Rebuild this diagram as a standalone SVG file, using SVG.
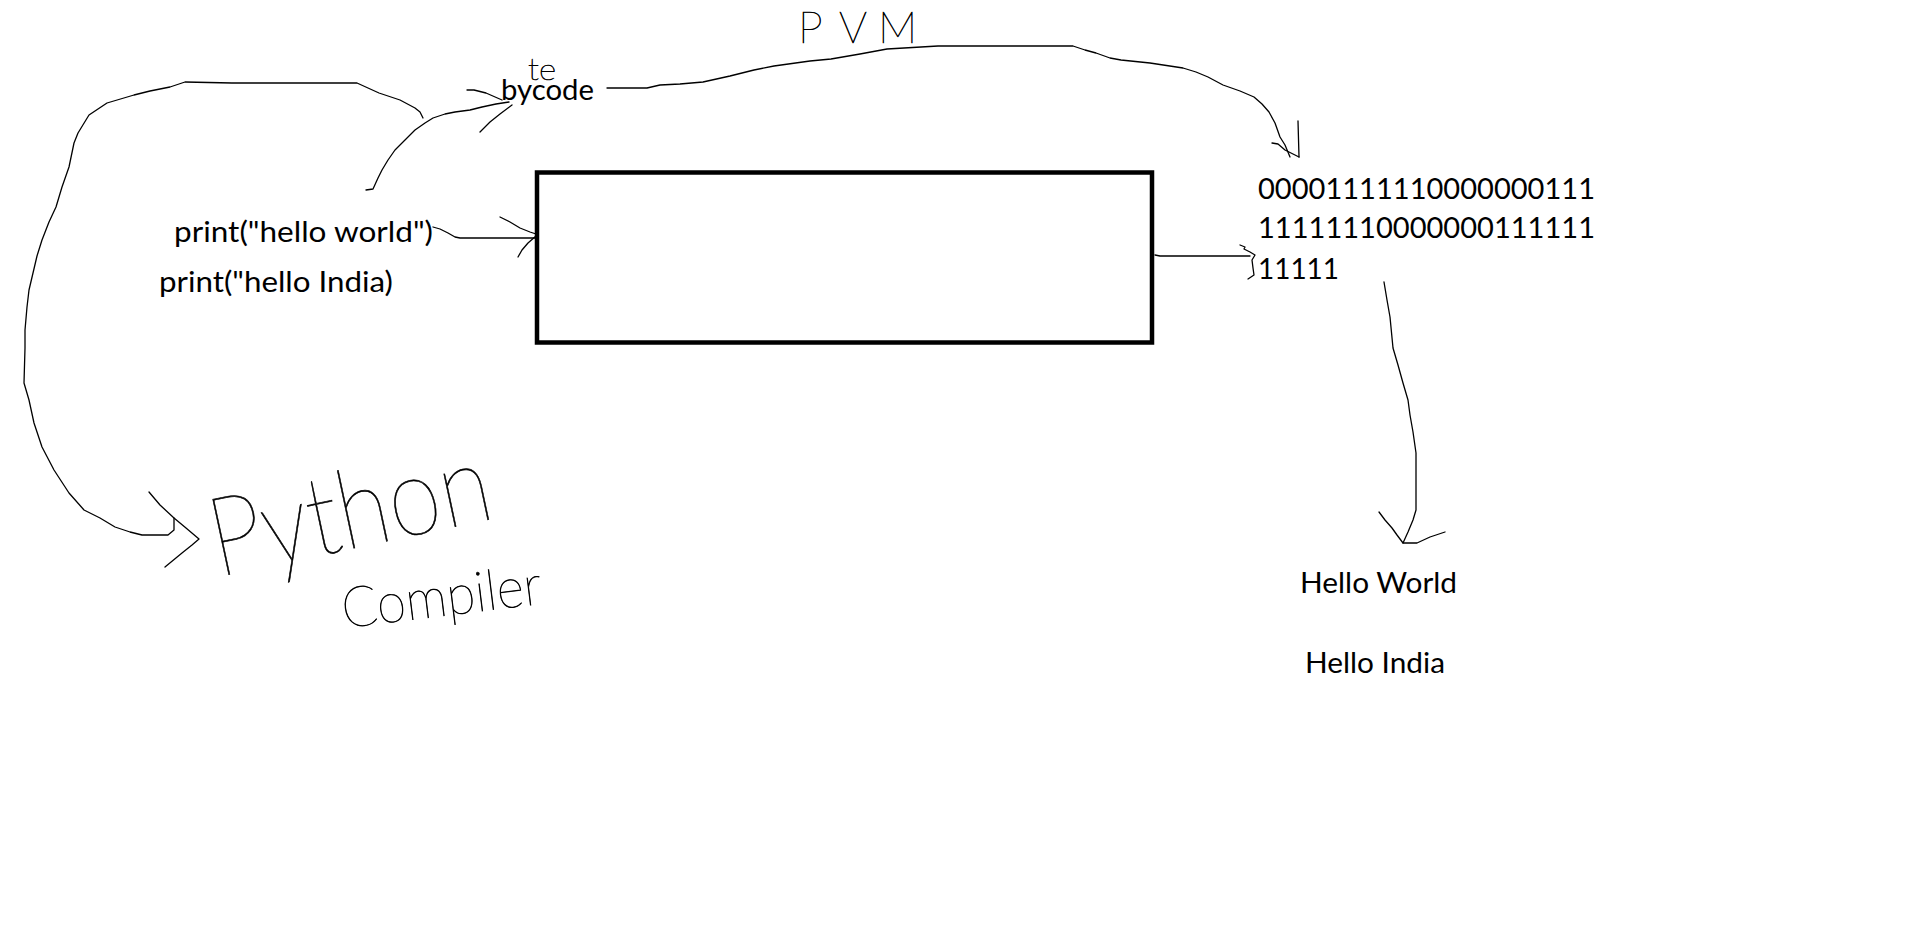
<svg xmlns="http://www.w3.org/2000/svg" width="1914" height="940" viewBox="0 0 1914 940">
<style>
.t{font-family:Lato,"Liberation Sans",sans-serif;font-size:29px;fill:#000}
.h{font-family:Lato,"Liberation Sans",sans-serif;font-weight:100;fill:#000;stroke:#000;stroke-width:0.7}
.c{fill:none;stroke:#000;stroke-width:1.3;stroke-linejoin:round;stroke-linecap:round}
.box{fill:#fff;stroke:#000;stroke-width:4.5}
</style>
<rect x="0" y="0" width="1914" height="940" fill="#fff"/>
<g id="connectors">
<polyline class="c" points="423,118 420,112 415,108 400,100 379,93 357,83 300,83 232,83 185,82 170,87 150,91 134,95 107,103 89,115 78,133 74,143 69,167 62,187 56,207 49,222 42,240 37,256 33,273 29,290 27,307 25,330 25,348 24,383 29,400 34,423 42,447 54,470 69,493 84,510 100,518 115,527 130,532 142,535 168,535 174,530 174,518"/>
<polyline class="c" points="149,492 160,505 174,518 186,528 199,539 192,545 182,553 165,567"/>
<polyline class="c" points="366,190 373,189 378,178 382,170 388,160 395,150 405,140 415,130 425,123 433,118 445,114 455,112 470,110 482,107 496,104 509,102"/>
<polyline class="c" points="467,90 474,90 486,93 502,100"/>
<polyline class="c" points="512,105 500,114 490,122 480,132"/>
<polyline class="c" points="433,227 440,229 448,233 455,237 460,238 536,238"/>
<polyline class="c" points="500,217 510,222 520,228 530,232 536,234"/>
<polyline class="c" points="536,236 528,243 522,250 518,257"/>
<polyline class="c" points="607,88 647,88 660,85 680,84 703,82 730,76 754,70 774,66 810,61 831,59 860,54 887,49 938,46 1073,46 1085,50 1096,53 1110,58 1121,60 1150,63 1183,68 1196,72 1208,77 1223,85 1240,91 1254,97 1262,104 1269,112 1275,123 1280,137 1285,145 1290,157"/>
<polyline class="c" points="1298,121 1299,157"/>
<polyline class="c" points="1272,143 1278,144 1285,150 1299,157"/>
<polyline class="c" points="1155,255 1160,256 1250,256"/>
<polyline class="c" points="1240,245 1245,247 1244,249 1250,252 1255,255 1252,260 1253,268 1254,275 1248,279"/>
<polyline class="c" points="1384,282 1387,300 1390,317 1393,348 1398,365 1403,383 1408,400 1410,415 1413,432 1416,453 1416,510 1413,520 1408,532 1403,543"/>
<polyline class="c" points="1379,512 1385,520 1392,528 1397,535 1403,543 1407,543 1417,543 1430,537 1445,532"/>
</g>
<g id="interpreter-box">
<rect class="box" x="537" y="172.5" width="615" height="170"/>
</g>
<g id="bytecode">
<text class="t" x="501" y="100" textLength="93" lengthAdjust="spacingAndGlyphs">bycode</text>
<text class="h" x="528" y="80" font-size="30" textLength="28" lengthAdjust="spacingAndGlyphs">te</text>
</g>
<g id="source-code">
<text class="t" x="174" y="242" textLength="259" lengthAdjust="spacingAndGlyphs">print("hello world")</text>
<text class="t" x="159" y="292" textLength="234" lengthAdjust="spacingAndGlyphs">print("hello India)</text>
</g>
<g id="pvm-label">
<text class="h" font-size="44" x="798 839 878" y="43">PVM</text>
</g>
<g id="machine-code">
<text class="t" x="1258" y="199" textLength="337" lengthAdjust="spacingAndGlyphs">00001111110000000111</text>
<text class="t" x="1258" y="238" textLength="337" lengthAdjust="spacingAndGlyphs">11111110000000111111</text>
<text class="t" x="1258" y="279" textLength="81" lengthAdjust="spacingAndGlyphs">11111</text>
</g>
<g id="python-compiler">
<text class="h" font-size="110" x="218" y="577" transform="rotate(-12 218 577)" textLength="285" lengthAdjust="spacingAndGlyphs">Python</text>
<text class="h" font-size="56" x="344" y="628" transform="rotate(-7 344 628)" textLength="201" lengthAdjust="spacingAndGlyphs">Compiler</text>
</g>
<g id="output">
<text class="t" x="1300" y="593" textLength="157" lengthAdjust="spacingAndGlyphs">Hello World</text>
<text class="t" x="1305" y="673" textLength="140" lengthAdjust="spacingAndGlyphs">Hello India</text>
</g>
</svg>
